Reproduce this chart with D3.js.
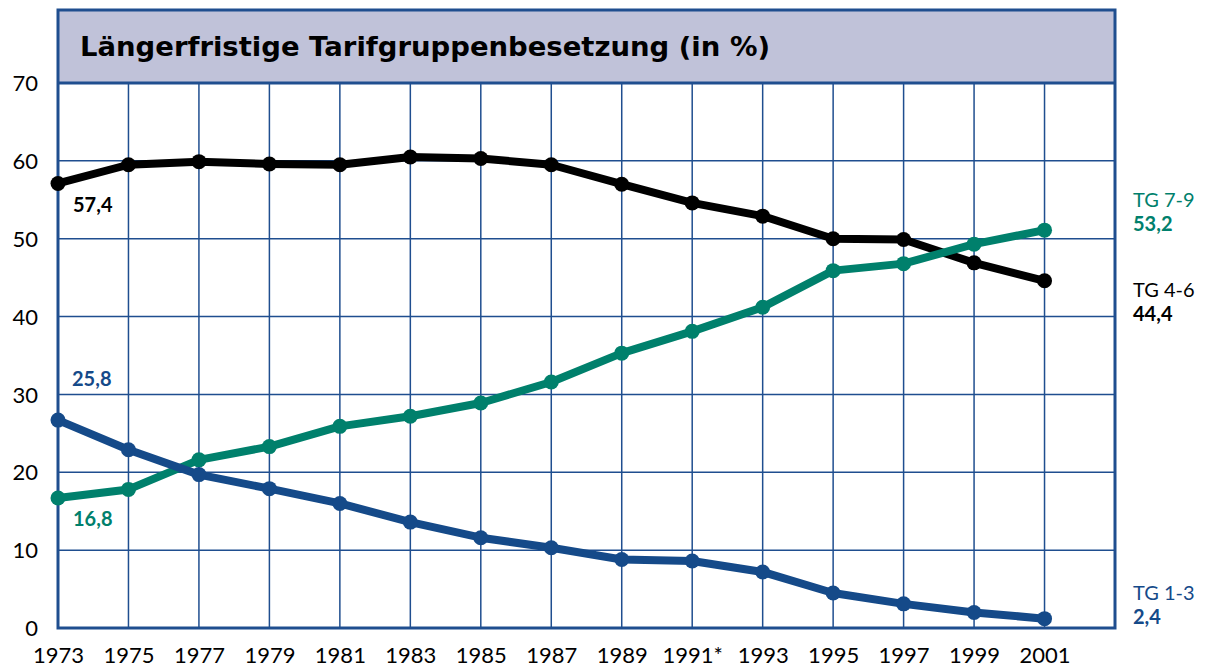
<!DOCTYPE html>
<html>
<head>
<meta charset="utf-8">
<script src="https://cdn.jsdelivr.net/npm/d3@7"></script>
<style>
  body { margin: 0; background: #fff; }
  svg text { font-family: Lato, "DejaVu Sans", sans-serif; }
</style>
</head>
<body>
<div id="chart"></div>
<script>
// Tarifgruppen, Anteile in %
var years = [1973, 1975, 1977, 1979, 1981, 1983, 1985, 1987, 1989, 1991, 1993, 1995, 1997, 1999, 2001];
var yearLabels = ['1973', '1975', '1977', '1979', '1981', '1983', '1985', '1987', '1989', '1991*', '1993', '1995', '1997', '1999', '2001'];
var tg46 = [57.1, 59.5, 59.9, 59.6, 59.5, 60.5, 60.3, 59.5, 57.0, 54.6, 52.9, 50.0, 49.9, 46.9, 44.6];
var tg79 = [16.7, 17.8, 21.6, 23.3, 25.9, 27.2, 28.9, 31.6, 35.3, 38.1, 41.2, 45.9, 46.8, 49.3, 51.1];
var tg13 = [26.7, 22.9, 19.7, 17.9, 16.0, 13.6, 11.6, 10.3, 8.8, 8.6, 7.2, 4.5, 3.1, 2.0, 1.2];
var yTicks = [0, 10, 20, 30, 40, 50, 60, 70];
var title = 'Längerfristige Tarifgruppenbesetzung (in %)';

var gridBlue = '#1f4e8f';
var colBlack = '#000000', colGreen = '#00806c', colBlue = '#154a89';

var width = 1208, height = 668;
var plotLeft = 58, plotRight = 1115, boxTop = 10, plotBottom = 628, titleBottom = 83;

var x = d3.scaleLinear().domain([1973, 2003]).range([plotLeft, plotRight]);
var y = d3.scaleLinear().domain([0, 70]).range([plotBottom, titleBottom]);

var svg = d3.select('#chart').append('svg')
    .attr('width', width)
    .attr('height', height);

// Titelbox
svg.append('rect')
    .attr('x', plotLeft).attr('y', boxTop)
    .attr('width', plotRight - plotLeft).attr('height', titleBottom - boxTop)
    .style('fill', '#c0c2d9');
svg.append('text')
    .attr('x', 80).attr('y', 56)
    .attr('textLength', 690)
    .attr('lengthAdjust', 'spacingAndGlyphs')
    .style('font-family', '"DejaVu Sans", sans-serif')
    .style('font-size', '26px')
    .style('font-weight', 'bold')
    .text(title);

// Gitter
svg.append('g')
    .selectAll('line')
    .data(yTicks.filter(function(d) { return d > 0 && d < 70; }))
    .enter().append('line')
        .attr('x1', plotLeft).attr('x2', plotRight)
        .attr('y1', function(d) { return y(d); })
        .attr('y2', function(d) { return y(d); })
        .style('stroke', gridBlue).style('stroke-width', 1.5);
svg.append('g')
    .selectAll('line')
    .data(years.slice(1))
    .enter().append('line')
        .attr('x1', function(d) { return x(d); })
        .attr('x2', function(d) { return x(d); })
        .attr('y1', titleBottom).attr('y2', plotBottom)
        .style('stroke', gridBlue).style('stroke-width', 1.5);
svg.append('line')
    .attr('x1', plotLeft).attr('x2', plotRight)
    .attr('y1', titleBottom).attr('y2', titleBottom)
    .style('stroke', gridBlue).style('stroke-width', 3);
svg.append('rect')
    .attr('x', plotLeft).attr('y', boxTop)
    .attr('width', plotRight - plotLeft).attr('height', plotBottom - boxTop)
    .style('fill', 'none')
    .style('stroke', gridBlue).style('stroke-width', 3);

// Achsen
var yAxis = d3.axisLeft(y).tickValues(yTicks).tickSize(0).tickPadding(20);
svg.append('g')
    .attr('transform', 'translate(' + plotLeft + ',0)')
    .call(yAxis)
    .call(function(g) { g.select('.domain').remove(); })
    .selectAll('text')
        .style('font-size', '22px')
        .style('font-family', 'Lato, sans-serif')
        .attr('dy', '0.35em')
        .style('fill', '#000');

var xAxis = d3.axisBottom(x).tickValues(years).tickSize(0).tickPadding(19)
    .tickFormat(function(d, i) { return yearLabels[i]; });
svg.append('g')
    .attr('transform', 'translate(0,' + plotBottom + ')')
    .call(xAxis)
    .call(function(g) { g.select('.domain').remove(); })
    .selectAll('text')
        .style('font-size', '22px')
        .style('font-family', 'Lato, sans-serif')
        .style('fill', '#000');

// Linien
var series = [
    {values: tg46, color: colBlack},
    {values: tg79, color: colGreen},
    {values: tg13, color: colBlue}
];
var line = d3.line()
    .x(function(d, i) { return x(years[i]); })
    .y(function(d) { return y(d); });

series.forEach(function(s) {
    svg.append('path')
        .datum(s.values)
        .attr('d', line)
        .style('fill', 'none')
        .style('stroke', s.color)
        .style('stroke-width', 8)
        .style('stroke-linejoin', 'round');
    svg.append('g')
        .selectAll('circle')
        .data(s.values)
        .enter().append('circle')
            .attr('cx', function(d, i) { return x(years[i]); })
            .attr('cy', function(d) { return y(d); })
            .attr('r', 7.5)
            .style('fill', s.color);
});

// Beschriftungen
var labels = [
    {t: '57,4', x: 73, y: 212, c: colBlack, b: true},
    {t: '25,8', x: 72, y: 386, c: colBlue, b: true},
    {t: '16,8', x: 73, y: 526, c: colGreen, b: true},
    {t: 'TG 7-9', x: 1133, y: 207, c: colGreen, b: false},
    {t: '53,2', x: 1133, y: 231, c: colGreen, b: true},
    {t: 'TG 4-6', x: 1133, y: 297, c: colBlack, b: false},
    {t: '44,4', x: 1133, y: 321, c: colBlack, b: true},
    {t: 'TG 1-3', x: 1133, y: 600, c: colBlue, b: false},
    {t: '2,4', x: 1133, y: 624, c: colBlue, b: true}
];
svg.append('g')
    .selectAll('text')
    .data(labels)
    .enter().append('text')
        .attr('x', function(d) { return d.x; })
        .attr('y', function(d) { return d.y; })
        .style('font-size', '20px')
        .style('font-weight', function(d) { return d.b ? 'bold' : 'normal'; })
        .style('fill', function(d) { return d.c; })
        .text(function(d) { return d.t; });
</script>
</body>
</html>
